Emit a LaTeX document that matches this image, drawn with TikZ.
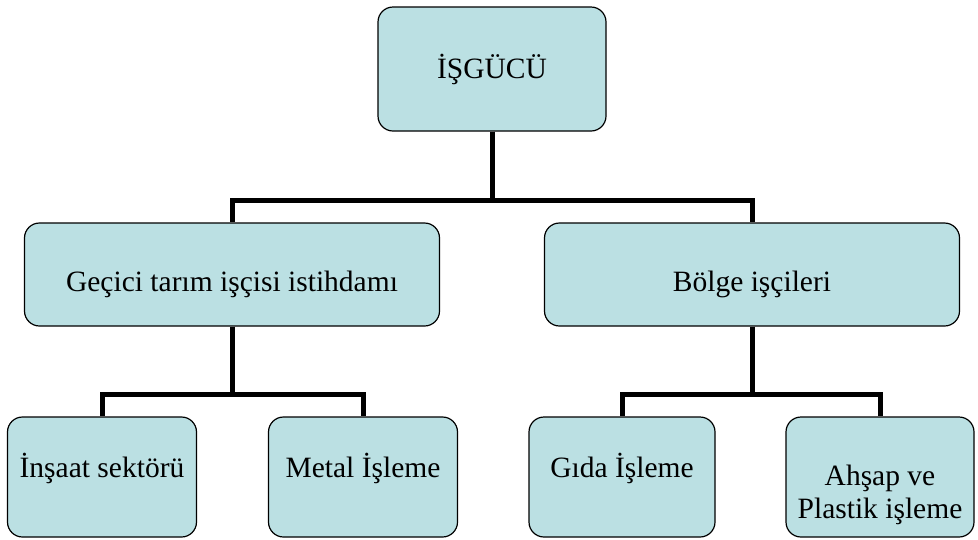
\documentclass[tikz,border=0pt]{standalone}
\usepackage{fontspec}
\setmainfont{Liberation Serif}
\usetikzlibrary{positioning}
\definecolor{boxfill}{RGB}{187,224,227}
\begin{document}
\begin{tikzpicture}[x=1pt,y=-1pt,
      box/.style={rectangle,draw=black,line width=1.2pt,fill=boxfill,
        rounded corners=15pt,inner sep=0pt,align=center,
        font=\fontsize{29.5}{33}\selectfont},
      head/.style={box,minimum width=228pt,minimum height=124pt},
      branch/.style={box,minimum width=415pt,minimum height=103pt,
        text height=38pt,text depth=5pt},
      leaf/.style={box,minimum width=189pt,minimum height=120pt,
        text height=8pt,text depth=8pt},
      bus/.style={line width=5pt}]
\useasboundingbox (0,0) rectangle (978,539);
\node (work) [head] at (492,69) {İŞGÜCÜ};
\node (farm) [branch] at (232,274.5) {Geçici tarım işçisi istihdamı};
\node (region) [branch] at (752,274.5) {Bölge işçileri};
\node (build) [leaf] at (102,477) {İnşaat sektörü};
\node (metal) [leaf] at (363,477) {Metal İşleme};
\node (food) [leaf,minimum width=186pt] at (622,477) {Gıda İşleme};
\node (wood) [leaf,minimum width=188pt,text height=87pt,text depth=5pt]
  at (880,477) {Ahşap ve\\Plastik işleme};
\draw[bus] (work.south) -- ++(0,69) -| (farm.north);
\draw[bus] (work.south) -- ++(0,69) -| (region.north);
\draw[bus] (farm.south) -- ++(0,68) -| (build.north);
\draw[bus] (farm.south) -- ++(0,68) -| (metal.north);
\draw[bus] (region.south) -- ++(0,68) -| (food.north);
\draw[bus] (region.south) -- ++(0,68) -| (wood.north);
\end{tikzpicture}
\end{document}
